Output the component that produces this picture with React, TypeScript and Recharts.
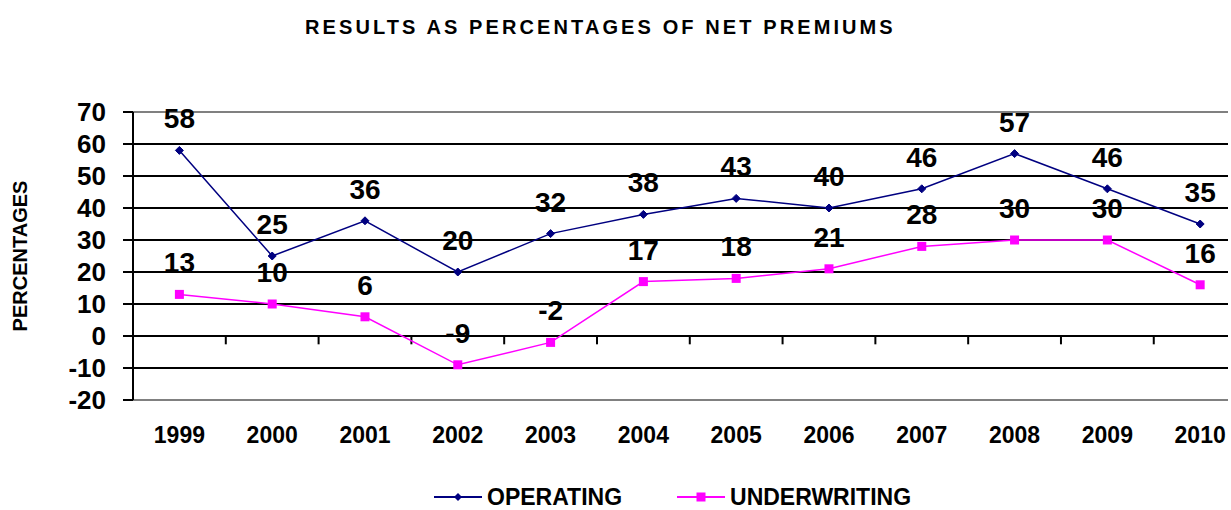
import { CartesianGrid, LabelList, Line, LineChart, ReferenceLine, XAxis, YAxis } from "recharts";

const years = ["1999", "2000", "2001", "2002", "2003", "2004", "2005", "2006", "2007", "2008", "2009", "2010"];
const operating = [58, 25, 36, 20, 32, 38, 43, 40, 46, 57, 46, 35];
const underwriting = [13, 10, 6, -9, -2, 17, 18, 21, 28, 30, 30, 16];
const yTicks = [-20, -10, 0, 10, 20, 30, 40, 50, 60, 70];
const seriesNames = ["OPERATING", "UNDERWRITING"];

const data = years.map((year, i) => ({ idx: i, year, operating: operating[i], underwriting: underwriting[i] }));
// category boundaries on the zero line (Excel style tick marks)
const boundaries = years.slice(1).map((_, i) => i + 0.5);

const FONT = "'Liberation Sans', Arial, sans-serif";
const NAVY = "#000080";
const PINK = "#FF00FF";

function Diamond(props: any) {
  const { cx, cy } = props;
  if (cx == null || cy == null) return null;
  const r = 4;
  return <polygon points={`${cx},${cy - r} ${cx + r},${cy} ${cx},${cy + r} ${cx - r},${cy}`} fill={NAVY} stroke={NAVY} />;
}

function Square(props: any) {
  const { cx, cy } = props;
  if (cx == null || cy == null) return null;
  return <rect x={cx - 4.5} y={cy - 4.5} width={9} height={9} fill={PINK} />;
}

function ChartLegend() {
  const items = [
    { name: seriesNames[0], color: NAVY, shape: "diamond" },
    { name: seriesNames[1], color: PINK, shape: "square" },
  ];
  return (
    <div
      style={{
        position: "absolute",
        top: 487,
        left: 434,
        display: "flex",
        gap: 55,
        fontFamily: FONT,
        fontWeight: 700,
        fontSize: 23,
        lineHeight: "20px",
      }}
    >
      {items.map((it) => (
        <div key={it.name} style={{ display: "flex", alignItems: "center" }}>
          <svg width={48} height={12} style={{ marginRight: 5 }}>
            <line x1={0} x2={48} y1={6} y2={6} stroke={it.color} strokeWidth={2} />
            {it.shape === "diamond" ? (
              <polygon points="24,2 28,6 24,10 20,6" fill={it.color} />
            ) : (
              <rect x={19.5} y={1.5} width={9} height={9} fill={it.color} />
            )}
          </svg>
          <span>{it.name}</span>
        </div>
      ))}
    </div>
  );
}

const labelStyle = { fill: "#000", fontFamily: FONT, fontWeight: 700, fontSize: 28 };

export default function App() {
  return (
    <div style={{ position: "absolute", left: 0, top: 0, width: 1231, height: 510, background: "#fff", overflow: "hidden" }}>
      <div
        style={{
          position: "absolute",
          top: 16,
          left: 305,
          whiteSpace: "nowrap",
          fontFamily: FONT,
          fontWeight: 700,
          fontSize: 20,
          letterSpacing: 3.1,
        }}
      >
        RESULTS AS PERCENTAGES OF NET PREMIUMS
      </div>
      <LineChart width={1231} height={510} data={data} margin={{ top: 112, right: 3, bottom: 0, left: 0 }}>
        <CartesianGrid vertical={false} stroke="#000" strokeWidth={2} />
        <XAxis
          dataKey="idx"
          type="number"
          domain={[-0.5, 11.3]}
          ticks={years.map((_, i) => i)}
          tickFormatter={(v) => years[v]}
          allowDataOverflow
          height={110}
          axisLine={false}
          tickLine={false}
          tickSize={0}
          tickMargin={27}
          tick={{ fill: "#000", fontFamily: FONT, fontWeight: 700, fontSize: 23 }}
          interval={0}
        />
        <YAxis
          domain={[-20, 70]}
          ticks={yTicks}
          interval={0}
          width={133}
          axisLine={{ stroke: "#000", strokeWidth: 2 }}
          tickLine={{ stroke: "#000", strokeWidth: 2 }}
          tickSize={10}
          tickMargin={17}
          tick={{ fill: "#000", fontFamily: FONT, fontWeight: 700, fontSize: 26 }}
          label={{
            value: "PERCENTAGES",
            angle: -90,
            position: "insideLeft",
            offset: 20,
            style: { fill: "#000", fontFamily: FONT, fontWeight: 700, fontSize: 20, textAnchor: "middle" },
          }}
        />
        <ReferenceLine y={70} stroke="#808080" strokeWidth={2} />
        <ReferenceLine y={-20} stroke="#808080" strokeWidth={2} />
        {boundaries.map((b) => (
          <ReferenceLine key={b} segment={[{ x: b, y: 0 }, { x: b, y: -2.6 }]} stroke="#000" strokeWidth={2} />
        ))}
        <Line
          dataKey="operating"
          name={seriesNames[0]}
          stroke={NAVY}
          strokeWidth={1.5}
          dot={<Diamond />}
          activeDot={false}
          isAnimationActive={false}
        >
          <LabelList dataKey="operating" position="top" offset={22} style={labelStyle} />
        </Line>
        <Line
          dataKey="underwriting"
          name={seriesNames[1]}
          stroke={PINK}
          strokeWidth={1.5}
          dot={<Square />}
          activeDot={false}
          isAnimationActive={false}
        >
          <LabelList dataKey="underwriting" position="top" offset={22} style={labelStyle} />
        </Line>
      </LineChart>
      <ChartLegend />
    </div>
  );
}
